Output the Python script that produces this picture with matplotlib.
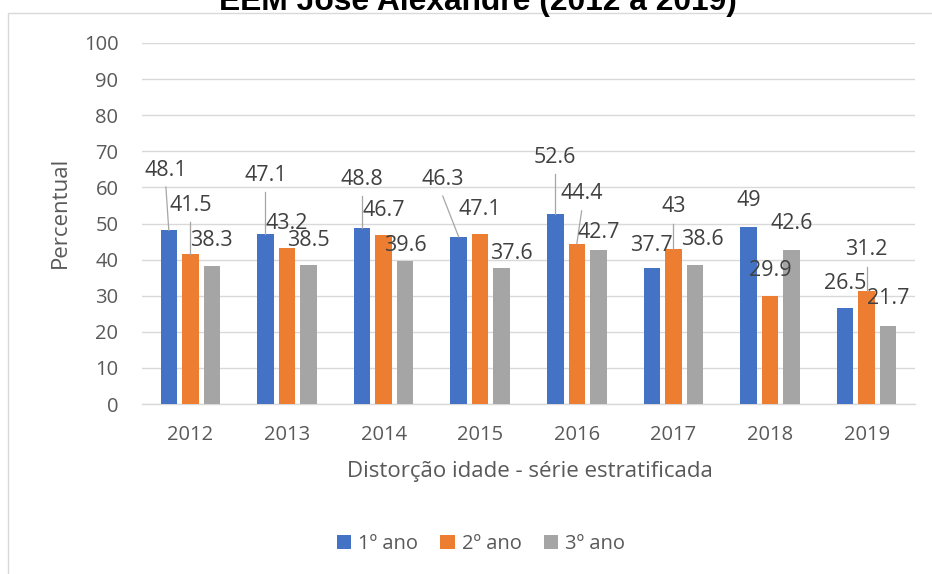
import numpy as np
import matplotlib.pyplot as plt
from matplotlib.patches import Patch, Rectangle

# =========================================
# DATA
# =========================================
years = ["2012", "2013", "2014", "2015", "2016", "2017", "2018", "2019"]
ano1 = [48.1, 47.1, 48.8, 46.3, 52.6, 37.7, 49, 26.5]
ano2 = [41.5, 43.2, 46.7, 47.1, 44.4, 43, 29.9, 31.2]
ano3 = [38.3, 38.5, 39.6, 37.6, 42.7, 38.6, 42.6, 21.7]
series_names = ["1º ano", "2º ano", "3º ano"]

title = "EEM José Alexandre (2012 a 2019)"
xlabel = "Distorção idade - série estratificada"
ylabel = "Percentual"

# =========================================
# LABEL PLACEMENT (labels were dragged by hand in the original)
# =========================================
label_y1 = [64.8, 63.4, 62.3, 62.3, 68.4, 44.0, 56.5, 33.5]
label_y2 = [55.1, 50.1, 53.7, 54.0, 58.2, 54.6, 37.1, 42.7]
label_y3 = [45.4, 45.4, 44.0, 41.8, 47.6, 45.7, 49.9, 29.1]
label_dx1 = [-0.03, 0, 0, -0.165, 0, 0, 0, 0]
label_dx2 = [0, 0, 0, 0, 0.05, 0, 0, 0]
label_dx3 = [0, 0, 0, 0.10, 0, 0.08, 0, 0]

# =========================================
# STYLE
# =========================================
COLORS = ["#4472C4", "#ED7D31", "#A5A5A5"]
GRID = "#D9D9D9"
TXT = "#595959"
LBL = "#404040"
FONT = ["Open Sans", "DejaVu Sans"]
BAR_W = 0.171
STEP = 0.2226

plt.rcParams["font.family"] = FONT

W, H = 932, 574
fig = plt.figure(figsize=(W / 100, H / 100), dpi=100)
ax = fig.add_axes([142 / W, 1 - 404 / H, (915 - 142) / W, (404 - 43) / H])

x = np.arange(len(years))
all_vals = [ano1, ano2, ano3]
all_ly = [label_y1, label_y2, label_y3]
all_dx = [label_dx1, label_dx2, label_dx3]

for k, (vals, col) in enumerate(zip(all_vals, COLORS)):
    xs = x + (k - 1) * STEP
    ax.bar(xs, vals, width=BAR_W, color=col, zorder=3)

    # data labels with leader lines
    for xi, v, ly, dx in zip(xs, vals, all_ly[k], all_dx[k]):
        lx = xi + dx
        ax.text(lx, ly, f"{v:g}", ha="center", va="center",
                fontsize=15.5, color=LBL, zorder=5)
        start = ly - 4.7
        if start - v > 4:
            ax.plot([lx, xi], [start, v], color="#A6A6A6", lw=0.9, zorder=4)

ax.set_xlim(-0.5, len(years) - 0.5)
ax.set_ylim(0, 100)
ax.set_yticks(np.arange(0, 101, 10))
ax.set_xticks(x)
ax.set_xticklabels(years)
ax.tick_params(axis="both", length=0, labelsize=14.5, labelcolor=TXT)
ax.tick_params(axis="y", pad=17)
ax.tick_params(axis="x", pad=15)

ax.grid(axis="y", color=GRID, lw=1.0, zorder=0)
ax.set_axisbelow(True)
for s in ["top", "right", "left"]:
    ax.spines[s].set_visible(False)
ax.spines["bottom"].set_color(GRID)
ax.spines["bottom"].set_linewidth(1.0)

# axis titles
fig.text(530 / W, 1 - 472 / H, xlabel, ha="center", va="center",
         fontsize=16, color=TXT)
fig.text(60 / W, 1 - 212 / H, ylabel, ha="center", va="center",
         rotation=90, fontsize=16, color=TXT)

# title (clipped at the top, like the original)
fig.text(478 / W, 1 - 10 / H, title, ha="center", va="baseline",
         fontsize=22.9, fontweight="bold", family="Liberation Sans",
         color="black")

# chart border
fig.add_artist(Rectangle((8 / W, -0.1), 1.2, 1.1 - 13 / H,
                         transform=fig.transFigure, fill=False,
                         edgecolor=GRID, lw=1.0, clip_on=False))

# legend
handles = [Patch(facecolor=c, edgecolor="none") for c in COLORS]
fig.legend(handles, series_names, loc="center", ncol=3,
           bbox_to_anchor=(481 / W, 1 - 544 / H), frameon=False,
           fontsize=14.5, labelcolor=TXT, handlelength=0.7,
           handleheight=0.7, handletextpad=0.35, columnspacing=1.1)

fig.savefig("out.png", dpi=100)
